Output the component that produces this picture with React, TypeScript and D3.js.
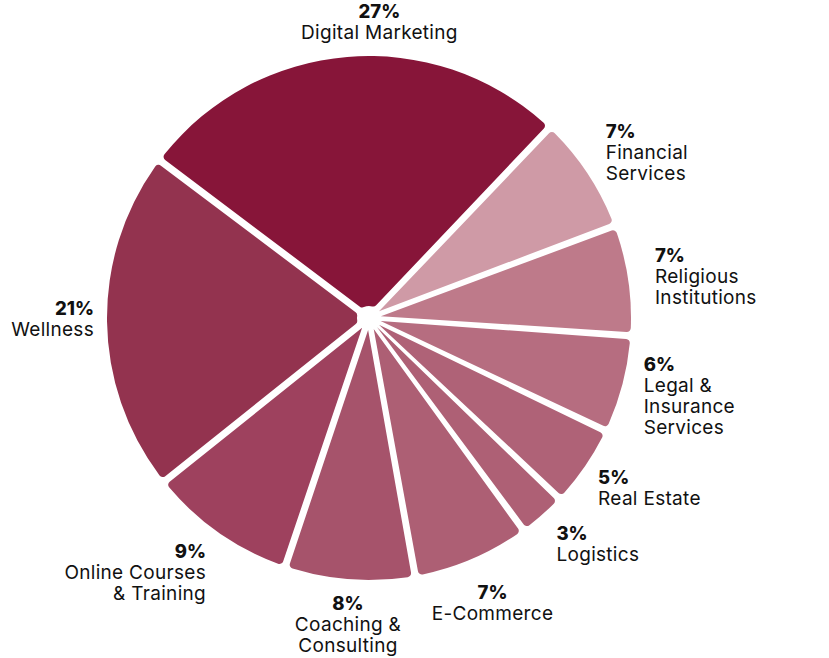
import React from 'react';
import * as d3 from 'd3';

const categories = [
  ['Digital Marketing'],
  ['Financial', 'Services'],
  ['Religious', 'Institutions'],
  ['Legal &', 'Insurance', 'Services'],
  ['Real Estate'],
  ['Logistics'],
  ['E-Commerce'],
  ['Coaching &', 'Consulting'],
  ['Online Courses', '& Training'],
  ['Wellness'],
];
const values = [26.8, 7.2, 6.8, 6.0, 5.0, 2.9, 7.2, 8.0, 9.1, 21.0];
const percentLabels = ['27%', '7%', '7%', '6%', '5%', '3%', '7%', '8%', '9%', '21%'];
const colors = [
  '#871539', '#CF9AA6', '#BE7A8A', '#B66D80', '#AF6277',
  '#AE6075', '#AD5F74', '#A6536B', '#9E415E', '#93334F',
];

const width = 829;
const height = 658;
const cx = 369;
const cy = 318;
const outerR = 262;
const lineH = 21;
const font = 'Inter, "Open Sans", sans-serif';

// small hand tweaks so labels sit where the original layout put them
const labelNudge = [
  [34, 3], [0, 6], [5, 3], [0, -5], [-5, -1],
  [0, -1], [12, 7], [0, -5], [0, -2], [9, -4],
];

const App = () => {
  const startAngle = (-53 * Math.PI) / 180;
  const pie = d3
    .pie<number>()
    .sort(null)
    .value((d) => d)
    .startAngle(startAngle)
    .endAngle(startAngle + 2 * Math.PI);
  const arcs = pie(values);

  const arc = d3
    .arc<d3.PieArcDatum<number>>()
    .innerRadius(12)
    .outerRadius(outerR)
    .cornerRadius(4)
    .padAngle(0.027);

  const labelR = outerR + 22;

  return (
    <svg
      width={width}
      height={height}
      style={{ position: 'absolute', left: 0, top: 0, background: '#fff' }}
    >
      <g transform={`translate(${cx},${cy})`}>
        {arcs.map((a, i) => (
          <path key={i} d={arc(a) || ''} fill={colors[i]} />
        ))}
      </g>
      {arcs.map((a, i) => {
        const mid = (a.startAngle + a.endAngle) / 2;
        const s = Math.sin(mid);
        const c = Math.cos(mid);
        const px = cx + s * labelR + labelNudge[i][0];
        const py = cy - c * labelR + labelNudge[i][1];
        const lines = [percentLabels[i], ...categories[i]];
        const blockH = 13 + (lines.length - 1) * lineH;
        const top = py - (blockH * (1 + c)) / 2;
        const anchor = s > 0.5 ? 'start' : s < -0.5 ? 'end' : 'middle';
        return (
          <text
            key={i}
            x={px}
            y={top}
            textAnchor={anchor}
            fontFamily={font}
            fill="#111"
          >
            {lines.map((t, j) => (
              <tspan
                key={j}
                x={px}
                dy={j === 0 ? 14 : lineH}
                fontWeight={j === 0 ? 800 : 400}
                fontSize={j === 0 ? 18.5 : 19}
                letterSpacing={j === 0 ? 0 : 0.3}
              >
                {t}
              </tspan>
            ))}
          </text>
        );
      })}
    </svg>
  );
};

export default App;
